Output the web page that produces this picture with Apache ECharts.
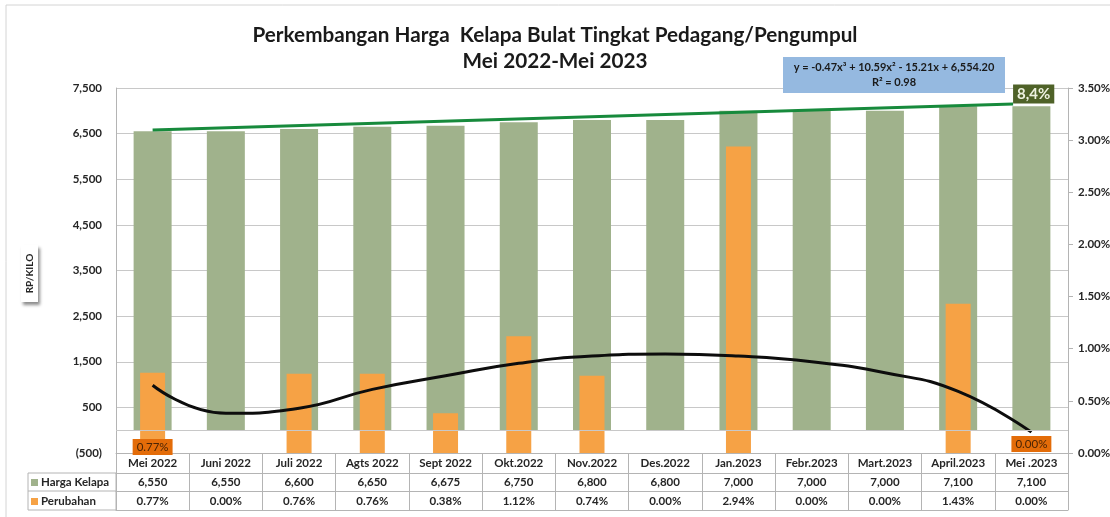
<!DOCTYPE html>
<html>
<head>
<meta charset="utf-8">
<title>Harga Kelapa Bulat</title>
<style>
html, body { margin: 0; padding: 0; background: #fff; }
#main { width: 1110px; height: 517px; }
</style>
<script src="https://cdn.jsdelivr.net/npm/echarts@6/dist/echarts.min.js"></script>
</head>
<body>
<div id="main"></div>
<script>
// data
const bulan = ['Mei 2022', 'Juni 2022', 'Juli 2022', 'Agts 2022', 'Sept 2022', 'Okt.2022', 'Nov.2022',
               'Des.2022', 'Jan.2023', 'Febr.2023', 'Mart.2023', 'April.2023', 'Mei .2023']
const hargaKelapa = [6550, 6550, 6600, 6650, 6675, 6750, 6800, 6800, 7000, 7000, 7000, 7100, 7100]
const perubahan = [0.77, 0, 0.76, 0.76, 0.38, 1.12, 0.74, 0, 2.94, 0, 0, 1.43, 0]
// black trend curve of perubahan (%)
const trenPerubahan = [0.65, 0.38, 0.43, 0.61, 0.74, 0.86, 0.93, 0.95, 0.93, 0.875, 0.77, 0.59, 0.20]
// green trend line of harga (x in category units, 0 = Mei 2022)
const trenHargaX = [0, 11.75]
const trenHargaY = [6578, 7149]
const trenHargaLabel = '8,4%'
const leftTicks = { min: -500, max: 7500, interval: 1000 }
const rightTicks = { min: 0, max: 3.5, interval: 0.5 }
const persamaan = 'y = -0.47x³ + 10.59x² - 15.21x + 6,554.20\nR² = 0.98'

const font = 'Lato, "Open Sans", sans-serif'
const rp = v => v < 0 ? '(' + Math.abs(v).toLocaleString('en-US') + ')' : v.toLocaleString('en-US')
const pct = v => v.toFixed(2) + '%'
const lineGray = '#b4b4b4'
const labelStyle = { fontFamily: font, fontSize: 11.5, fontWeight: 'bold', color: '#262626' }

// one table row = one category axis under the grid
function rowAxis(data, offset, tickLen, margin) {
  return {
    type: 'category', data: data, gridIndex: 0, position: 'bottom', offset: offset,
    axisLine: { show: true, onZero: false, lineStyle: { color: lineGray } },
    axisTick: { show: tickLen > 0, length: tickLen, interval: 0, lineStyle: { color: lineGray } },
    axisLabel: Object.assign({ show: margin != null, interval: 0, margin: margin || 0, verticalAlign: 'middle' }, labelStyle),
    splitLine: { show: false }
  }
}

const chart = echarts.init(document.getElementById('main'))

chart.setOption({
  animation: false,
  textStyle: { fontFamily: font },
  title: {
    text: 'Perkembangan Harga  Kelapa Bulat Tingkat Pedagang/Pengumpul\nMei 2022-Mei 2023',
    left: 'center', top: 17,
    textStyle: { fontFamily: font, fontSize: 20.7, fontWeight: 'bold', color: '#1a1a1a', lineHeight: 26 }
  },
  legend: {
    data: ['Harga Kelapa', 'Perubahan'],
    orient: 'vertical', left: 31, top: 476, padding: 0,
    itemWidth: 7, itemHeight: 7, itemGap: 6, icon: 'rect',
    selectedMode: false,
    textStyle: { fontFamily: font, fontSize: 11.5, fontWeight: 'bold', color: '#262626', lineHeight: 13, padding: [0, 0, 0, -2] }
  },
  grid: { left: 116, right: 42, top: 88, bottom: 64, containLabel: false, outerBoundsMode: 'none' },
  xAxis: [
    rowAxis(bulan, 0, 20, 10),
    { type: 'category', data: bulan, show: false },
    { type: 'value', min: -0.5, max: 12.5, show: false },
    rowAxis(hargaKelapa.map(rp), 20, 18, 9),
    rowAxis(perubahan.map(pct), 38, 19, 10),
    rowAxis(bulan, 57, 0, null)
  ],
  yAxis: [{
    type: 'value', min: leftTicks.min, max: leftTicks.max, interval: leftTicks.interval,
    axisLine: { show: true, onZero: false, lineStyle: { color: lineGray } },
    axisTick: { show: false },
    axisLabel: Object.assign({ margin: 14, formatter: rp }, labelStyle),
    splitLine: { show: true, lineStyle: { color: '#c8c8c8' } }
  }, {
    type: 'value', min: rightTicks.min, max: rightTicks.max, interval: rightTicks.interval,
    position: 'right',
    axisLine: { show: true, onZero: false, lineStyle: { color: lineGray } },
    axisTick: { show: true, length: 5, lineStyle: { color: lineGray } },
    axisLabel: Object.assign({ margin: 10, formatter: pct }, labelStyle),
    splitLine: { show: false }
  }],
  graphic: [
    // outer chart border
    { type: 'rect', shape: { x: 6, y: 5, width: 1130, height: 540 }, style: { fill: 'none', stroke: '#d4d4d4' }, silent: true },
    // legend cells of the data table
    { type: 'rect', shape: { x: 28, y: 473, width: 88, height: 37 }, style: { fill: 'none', stroke: lineGray }, silent: true },
    { type: 'line', shape: { x1: 28, y1: 491, x2: 116, y2: 491 }, style: { stroke: lineGray }, silent: true },
    // y axis title
    {
      type: 'group', left: 21, top: 245,
      children: [
        { type: 'rect', shape: { x: 0, y: 0, width: 17, height: 57 },
          style: { fill: '#fff', shadowBlur: 3, shadowOffsetX: 2, shadowOffsetY: 3, shadowColor: 'rgba(0,0,0,0.45)' } },
        { type: 'text', x: 8.5, y: 28.5, rotation: Math.PI / 2,
          style: { text: 'RP/KILO', align: 'center', verticalAlign: 'middle', font: 'bold 10px ' + font, fill: '#262626' } }
      ]
    },
    // trendline equation
    {
      type: 'text', x: 894, y: 57, z: 10,
      style: {
        text: persamaan, align: 'center', verticalAlign: 'top', width: 212,
        font: 'bold 11px ' + font, fill: '#1a1a1a', lineHeight: 15,
        backgroundColor: '#95b9e0', padding: [3, 5]
      }
    }
  ],
  series: [{
    name: 'Harga Kelapa',
    type: 'bar', xAxisIndex: 0, yAxisIndex: 0,
    barWidth: 38,
    itemStyle: { color: '#a0b28c' },
    data: hargaKelapa,
    markLine: {
      silent: true, symbol: 'none', label: { show: false },
      lineStyle: { color: '#c8c8c8', type: 'solid', width: 1 },
      data: [{ yAxis: 0 }]
    }
  }, {
    name: 'Perubahan',
    type: 'bar', xAxisIndex: 1, yAxisIndex: 1,
    barWidth: 25,
    itemStyle: { color: '#f6a245' },
    data: perubahan.map((v, i) => {
      if (i !== 0 && i !== perubahan.length - 1) return v
      return {
        value: v,
        label: {
          show: true, position: i === 0 ? 'insideBottom' : 'top', distance: i === 0 ? -2 : 1,
          formatter: p => pct(p.value),
          fontFamily: font, fontSize: 11.5, color: '#4a2405',
          backgroundColor: '#e36c09', padding: [2, 4]
        }
      }
    }),
    z: 3
  }, {
    name: 'Tren Perubahan',
    type: 'line', xAxisIndex: 1, yAxisIndex: 1,
    smooth: 0.5, symbol: 'none',
    lineStyle: { color: '#0d0d0d', width: 3 },
    data: trenPerubahan,
    z: 4
  }, {
    name: 'Tren Harga',
    type: 'line', xAxisIndex: 2, yAxisIndex: 0,
    symbol: 'none',
    lineStyle: { color: '#178a3c', width: 3 },
    data: trenHargaX.map((x, i) => [x, trenHargaY[i]]),
    endLabel: {
      show: true, distance: 0, offset: [0, -10],
      formatter: trenHargaLabel,
      fontFamily: font, fontSize: 15, fontWeight: 'bold', color: '#eef2e0',
      backgroundColor: '#4f6228', padding: [2, 4]
    },
    z: 5
  }]
})
</script>
</body>
</html>
